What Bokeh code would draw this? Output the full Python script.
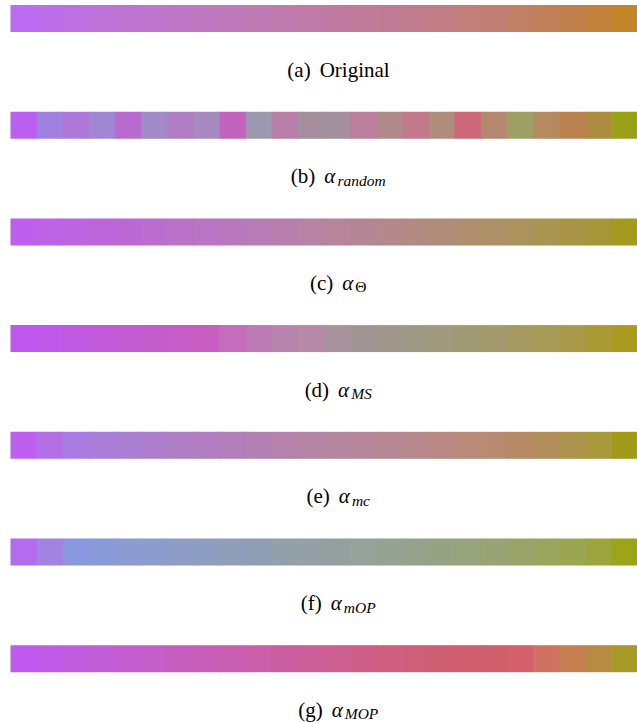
from bokeh.plotting import figure
from bokeh.models import Range1d, ColumnDataSource
from bokeh.core.properties import value
from bokeh.embed import file_html
from bokeh.resources import INLINE

# 24 colour swatches for each assignment strategy
original = ["#bc6cf0", "#bc6eea", "#bd70e2", "#bd72da", "#be73d3", "#be75cc",
            "#be77c6", "#bf78c0", "#bf79ba", "#bf7ab4", "#c07aae", "#c07aa8",
            "#c07aa2", "#c07b9b", "#c07b94", "#c07c8c", "#c07d84", "#c17e7a",
            "#c17e70", "#c17f64", "#c28058", "#c2814a", "#c3823c", "#c4852a"]
alpha_random = ["#bb5ff0", "#a081e0", "#ae78d8", "#a286d6", "#ba6acf", "#a18ac8",
                "#b07ec4", "#a68ac0", "#c262bc", "#9c98b0", "#b87ea8", "#a48e9c",
                "#a2909e", "#bb7e9c", "#b08a8a", "#c27a8a", "#b08c7c", "#cc6878",
                "#b4886e", "#9ca064", "#b68a60", "#bc8250", "#ac8c40", "#9aa018"]
alpha_theta = ["#be5ff0", "#be62e6", "#bd64e0", "#bc66da", "#bc68d4", "#bb6ccf",
               "#bb70ca", "#ba74c4", "#b978be", "#b87cb6", "#b87fae", "#b882a4",
               "#b7849c", "#b48694", "#b4888a", "#b28a82", "#b08c7a", "#b08e70",
               "#ae9066", "#ac925c", "#a99450", "#a89444", "#a69638", "#a49a20"]
alpha_ms = ["#c055f0", "#c157ea", "#c259e2", "#c35ada", "#c45bd4", "#c55ccd",
            "#c65dc8", "#c85ec2", "#c66cbc", "#bc7ab4", "#b684ac", "#b68aa8",
            "#a8929e", "#a29694", "#a0988c", "#9f9a84", "#a09a7c", "#a09a74",
            "#a29a6a", "#a49a60", "#a69a54", "#a89a46", "#aa9a36", "#aa9a20"]
alpha_mc = ["#bf5ff0", "#b270e4", "#a87ce0", "#a87ed8", "#aa7ed2", "#ac7ecc",
            "#ae7ec6", "#b07ec0", "#b27eba", "#b280b2", "#b482aa", "#b484a4",
            "#b486a0", "#b6869a", "#b68894", "#b6888c", "#b88884", "#b88a7a",
            "#b88a70", "#b68a66", "#b28e5a", "#ac944c", "#a89a3c", "#a09c1a"]
alpha_mop = ["#b46cee", "#a282e2", "#8a98e0", "#8a9ad8", "#8c9cd2", "#8c9ccc",
             "#8e9cc6", "#8e9ec0", "#909eba", "#909eb4", "#92a0ac", "#94a0a6",
             "#94a0a0", "#96a29a", "#96a294", "#96a28c", "#96a284", "#98a47c",
             "#98a474", "#9aa46a", "#9aa65e", "#9aa650", "#9ca43e", "#9ca41a"]
alpha_MOP = ["#c05af0", "#c15ce8", "#c25de0", "#c35ed8", "#c45ed0", "#c55ec8",
             "#c65ec0", "#c85eb8", "#c95eb0", "#ca5ea8", "#cb5ea0", "#cc5e98",
             "#cd5e90", "#ce5e88", "#cf5e80", "#d05e78", "#d05e72", "#d05e6e",
             "#d05e6a", "#d3606c", "#cf7260", "#c68050", "#b88c40", "#a89a26"]

strips = [original, alpha_random, alpha_theta, alpha_ms, alpha_mc, alpha_mop, alpha_MOP]

# caption pieces: tag, main symbol/word, subscript
tags = ["(a)", "(b)", "(c)", "(d)", "(e)", "(f)", "(g)"]
mains = ["Original", "α", "α", "α", "α", "α", "α"]
subs = ["", "random", "Θ", "MS", "mc", "mOP", "MOP"]

# ---- layout (pixels) ----
W, H = 637, 723
LEFT_PX = 10
CELL_PX = (W - LEFT_PX) / 24
ROW_PX = 106.7
TOP_PX = 18            # centre of first strip
STRIP_PX = 27
CAPTION_PX = 51        # strip centre -> caption baseline
CAPTION_CENTER_PX = 338
MAIN_SIZE = 21
SUB_SIZE = 15.5
GAP_PX = 9
SEAM = 0.03            # small overlap so neighbouring cells meet without gaps

# approximate advance widths (em/1000) for a Times-metric serif face
REG = {"(": 333, ")": 333, "a": 444, "b": 500, "c": 444, "d": 500, "e": 444,
       "f": 333, "g": 500, "O": 722, "r": 333, "i": 278, "n": 500, "l": 278}
ITA = {"α": 600, "r": 389, "a": 500, "n": 500, "d": 500, "o": 500, "m": 722,
       "c": 444, "M": 833, "S": 500, "O": 722, "P": 611, "Θ": 722}


def text_width(s, table, size):
    return sum(table.get(ch, 500) for ch in s) / 1000.0 * size


def to_x(px):
    return (px - LEFT_PX) / CELL_PX


def to_y(py):
    return (py - TOP_PX) / ROW_PX


p = figure(width=W, height=H, output_backend="svg", toolbar_location=None,
           x_range=Range1d(to_x(0), to_x(W)), y_range=Range1d(to_y(H), to_y(0)),
           min_border=0)
p.axis.visible = False
p.grid.visible = False
p.outline_line_color = None
p.background_fill_color = "white"
p.border_fill_color = "white"

# colour cells
lefts, rights, tops, bottoms, colors = [], [], [], [], []
half = STRIP_PX / 2 / ROW_PX
for r, strip in enumerate(strips):
    n = len(strip)
    for i, c in enumerate(strip):
        lefts.append(i)
        rights.append(i + 1 + (SEAM if i < n - 1 else 0))
        tops.append(r - half)
        bottoms.append(r + half)
        colors.append(c)
p.quad(left=lefts, right=rights, top=tops, bottom=bottoms,
       fill_color=colors, line_color=None)

# captions
tag_x, main_x, sub_x, main_y, sub_y, main_style = [], [], [], [], [], []
for r in range(len(strips)):
    w_tag = text_width(tags[r], REG, MAIN_SIZE)
    main_tab = REG if mains[r] == "Original" else ITA
    w_main = text_width(mains[r], main_tab, MAIN_SIZE)
    w_sub = text_width(subs[r], ITA, SUB_SIZE) + (1 if subs[r] else 0)
    total = w_tag + GAP_PX + w_main + w_sub
    x0 = CAPTION_CENTER_PX - total / 2
    tag_x.append(to_x(x0))
    main_x.append(to_x(x0 + w_tag + GAP_PX))
    sub_x.append(to_x(x0 + w_tag + GAP_PX + w_main + 0.5))
    base = TOP_PX + r * ROW_PX + CAPTION_PX
    main_y.append(to_y(base))
    sub_y.append(to_y(base + 4))
    main_style.append("normal" if mains[r] == "Original" else "italic")

src = ColumnDataSource(dict(tag_x=tag_x, main_x=main_x, sub_x=sub_x,
                            main_y=main_y, sub_y=sub_y, tags=tags, mains=mains,
                            subs=subs, main_style=main_style,
                            sub_style=["normal" if s == "Θ" else "italic" for s in subs]))

font = value("Liberation Serif")
p.text(x="tag_x", y="main_y", text="tags", source=src, text_font=font,
       text_font_size=f"{MAIN_SIZE}px", text_color="black",
       text_align="left", text_baseline="alphabetic")
p.text(x="main_x", y="main_y", text="mains", source=src, text_font=font,
       text_font_size=f"{MAIN_SIZE}px", text_font_style="main_style",
       text_color="black", text_align="left", text_baseline="alphabetic")
p.text(x="sub_x", y="sub_y", text="subs", source=src, text_font=font,
       text_font_size=f"{SUB_SIZE}px", text_font_style="sub_style",
       text_color="black", text_align="left", text_baseline="alphabetic")

open("out.html", "w").write(file_html(p, INLINE))
